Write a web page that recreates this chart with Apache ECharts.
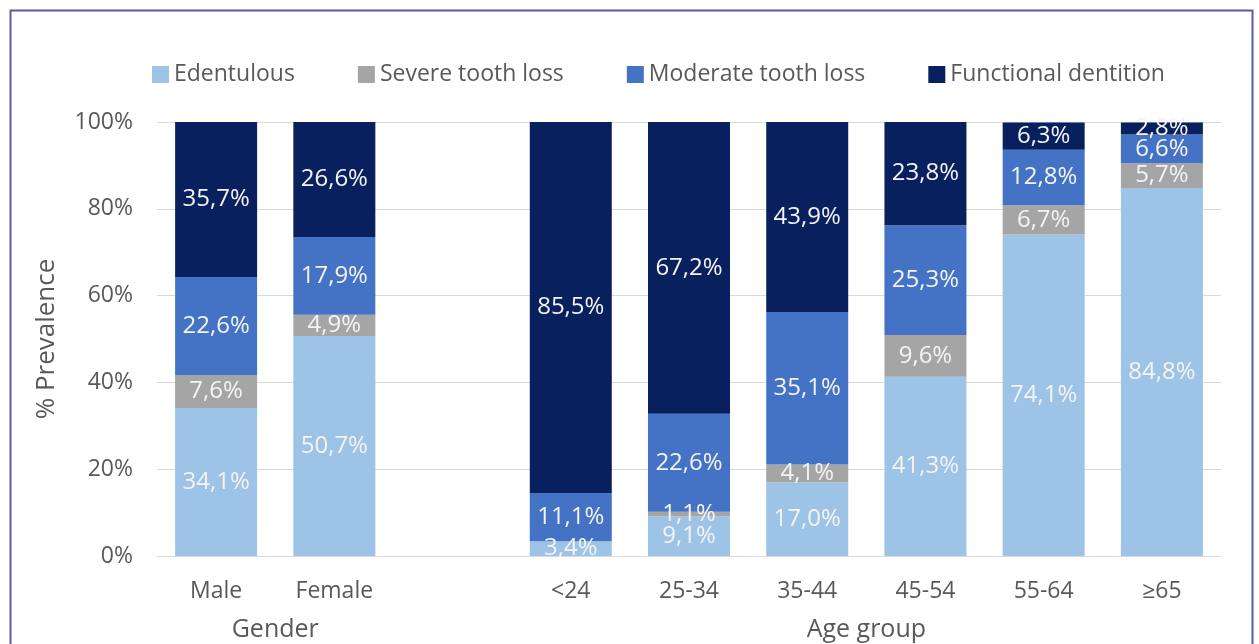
<!DOCTYPE html>
<html>
<head>
<meta charset="utf-8">
<script src="https://cdn.jsdelivr.net/npm/echarts@6/dist/echarts.min.js"></script>
<style>
  html, body { margin: 0; padding: 0; background: #ffffff; }
  #chart { width: 1259px; height: 644px; }
</style>
</head>
<body>
<div id="chart"></div>
<script>
// Prevalence of tooth loss categories by gender and age group (% of each group)
const categories = ['Male', 'Female', '', '<24', '25-34', '35-44', '45-54', '55-64', '≥65'];
const edentulous  = [34.1, 50.7, null, 3.4,  9.1, 17.0, 41.3, 74.1, 84.8];
const severeLoss  = [7.6,  4.9,  null, 0,    1.1,  4.1,  9.6,  6.7,  5.7];
const moderateLoss= [22.6, 17.9, null, 11.1, 22.6, 35.1, 25.3, 12.8, 6.6];
const functional  = [35.7, 26.6, null, 85.5, 67.2, 43.9, 23.8, 6.3,  2.8];
const yTicks = [0, 20, 40, 60, 80, 100];
const groups = [
  { name: 'Gender', from: 'Male', to: 'Female' },
  { name: 'Age group', from: '<24', to: '≥65' }
];

const textColor = '#595959';
const fontFamily = '"Open Sans", "Noto Sans", sans-serif';

function pct(v) {
  return v.toFixed(1).replace('.', ',') + '%';
}

function makeSeries(name, data, color) {
  return {
    name: name,
    type: 'bar',
    stack: 'total',
    barWidth: 82,
    data: data,
    itemStyle: { color: color },
    label: {
      show: true,
      position: 'inside',
      color: '#f4f4f4',
      fontSize: 24,
      fontFamily: fontFamily,
      formatter: p => (p.value ? pct(p.value) : '')
    }
  };
}

const chart = echarts.init(document.getElementById('chart'), null, { renderer: 'canvas' });

chart.setOption({
  backgroundColor: '#ffffff',
  animation: false,
  textStyle: { fontFamily: fontFamily },
  legend: {
    left: 147,
    top: 58,
    itemWidth: 17,
    itemHeight: 17,
    itemGap: 63,
    icon: 'rect',
    textStyle: { color: textColor, fontSize: 23, fontFamily: fontFamily },
    data: ['Edentulous', 'Severe tooth loss', 'Moderate tooth loss', 'Functional dentition']
  },
  grid: { left: 157, right: 38, top: 122, bottom: 88, containLabel: false },
  xAxis: {
    type: 'category',
    data: categories,
    axisLine: { show: true, lineStyle: { color: '#d9d9d9', width: 1 } },
    axisTick: { show: false },
    axisLabel: { color: textColor, fontSize: 23, margin: 24, fontFamily: fontFamily }
  },
  yAxis: {
    type: 'value',
    min: yTicks[0],
    max: yTicks[yTicks.length - 1],
    interval: yTicks[1] - yTicks[0],
    name: '% Prevalence',
    nameLocation: 'middle',
    nameGap: 97,
    nameTextStyle: { color: textColor, fontSize: 26, fontFamily: fontFamily },
    axisLine: { show: false },
    axisTick: { show: false },
    splitLine: { lineStyle: { color: '#d9d9d9', width: 1 } },
    axisLabel: { color: textColor, fontSize: 23, margin: 24, formatter: v => v + '%', fontFamily: fontFamily }
  },
  series: [
    makeSeries('Edentulous', edentulous, '#9dc3e6'),
    makeSeries('Severe tooth loss', severeLoss, '#a5a5a5'),
    makeSeries('Moderate tooth loss', moderateLoss, '#4472c4'),
    makeSeries('Functional dentition', functional, '#08205e')
  ]
});

// Group captions under the category labels, centred on each group's categories
const baseY = chart.convertToPixel({ yAxisIndex: 0 }, 0);
const graphics = groups.map(g => {
  const x1 = chart.convertToPixel({ xAxisIndex: 0 }, g.from);
  const x2 = chart.convertToPixel({ xAxisIndex: 0 }, g.to);
  return {
    type: 'text',
    x: (x1 + x2) / 2,
    y: baseY + 74,
    style: {
      text: g.name,
      fill: textColor,
      font: '25px ' + fontFamily,
      textAlign: 'center',
      textVerticalAlign: 'middle'
    }
  };
});
// Outer frame
graphics.push({
  type: 'rect',
  shape: { x: 10.5, y: 10.5, width: 1242, height: 700 },
  style: { fill: null, stroke: '#5b5ba3', lineWidth: 2 },
  silent: true
});
chart.setOption({ graphic: graphics });
</script>
</body>
</html>
